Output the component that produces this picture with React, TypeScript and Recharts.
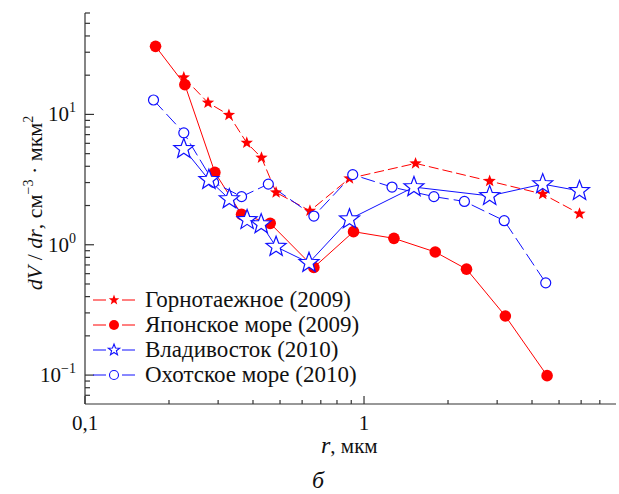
import { Line, LineChart, XAxis, YAxis } from 'recharts'

// Горнотаежное (2009)
const gorX = [0.226, 0.276, 0.328, 0.38, 0.429, 0.484, 0.64, 0.887, 1.53, 2.82, 4.37, 5.92]
const gorY = [19.2, 12.3, 9.9, 6.05, 4.66, 2.52, 1.82, 3.23, 4.21, 3.08, 2.45, 1.73]
// Японское море (2009)
const japX = [0.179, 0.228, 0.292, 0.364, 0.461, 0.661, 0.917, 1.28, 1.8, 2.33, 3.21, 4.53]
const japY = [33.3, 16.9, 3.59, 1.71, 1.46, 0.67, 1.26, 1.12, 0.88, 0.65, 0.284, 0.099]
// Владивосток (2010)
const vlaX = [0.226, 0.278, 0.329, 0.381, 0.428, 0.484, 0.635, 0.887, 1.51, 2.82, 4.37, 5.92]
const vlaY = [5.44, 3.15, 2.24, 1.55, 1.44, 0.965, 0.727, 1.57, 2.77, 2.37, 2.92, 2.59]
// Охотское море (2010)
const okhX = [0.176, 0.226, 0.289, 0.364, 0.454, 0.661, 0.911, 1.26, 1.78, 2.29, 3.18, 4.48]
const okhY = [12.9, 7.22, 3.01, 2.34, 2.92, 1.66, 3.45, 2.77, 2.34, 2.15, 1.53, 0.51]

const names = ['Горнотаежное (2009)', 'Японское море (2009)', 'Владивосток (2010)', 'Охотское море (2010)']

const xTicks = [0.1, 0.2, 0.3, 0.4, 0.5, 0.6, 0.7, 0.8, 0.9, 1, 2, 3, 4, 5, 6, 7]
const yTicks = [0.07, 0.08, 0.09, 0.1, 0.2, 0.3, 0.4, 0.5, 0.6, 0.7, 0.8, 0.9, 1, 2, 3, 4, 5, 6, 7, 8, 9, 10, 20, 30, 40, 50, 60]
const xMajor: Record<number, string> = { 0.1: '0,1', 1: '1' }
const yMajor: Record<number, string> = { 0.1: '−1', 1: '0', 10: '1' }

const toPts = (xs: number[], ys: number[]) => xs.map((x, i) => ({ x, y: ys[i] }))

const RED = '#ff0000'
const BLUE = '#1010ff'
const AXIS = '#333'
const FONT = 'Liberation Serif'

function starPoints(cx: number, cy: number, r: number) {
  const pts = []
  for (let i = 0; i < 10; i++) {
    const rr = i % 2 === 0 ? r : r * 0.42
    const a = -Math.PI / 2 + (i * Math.PI) / 5
    pts.push(`${cx + rr * Math.cos(a)},${cy + rr * Math.sin(a)}`)
  }
  return pts.join(' ')
}

const redStar = (p: any) => (
  <polygon key={`rs${p.index}`} points={starPoints(p.cx, p.cy, 6.5)} fill={RED} />
)
const redDot = (p: any) => <circle key={`rd${p.index}`} cx={p.cx} cy={p.cy} r={5.8} fill={RED} />
const blueStar = (p: any) => (
  <polygon key={`bs${p.index}`} points={starPoints(p.cx, p.cy, 10.5)} fill="#fff" stroke={BLUE} strokeWidth={1.2} />
)
const blueCircle = (p: any) => (
  <circle key={`bc${p.index}`} cx={p.cx} cy={p.cy} r={5} fill="#fff" stroke={BLUE} strokeWidth={1.2} />
)

const XTick = (p: any) => {
  const v = p.payload.value
  const label = xMajor[v]
  return (
    <g>
      <line x1={p.x} x2={p.x} y1={p.y} y2={p.y - (label ? 8 : 4)} stroke={AXIS} strokeWidth={1.2} />
      {label && (
        <text x={p.x} y={p.y + 26} textAnchor="middle" fontSize={21} fontFamily={FONT} fill="#111">
          {label}
        </text>
      )}
    </g>
  )
}

const YTick = (p: any) => {
  const v = p.payload.value
  const exp = yMajor[v]
  return (
    <g>
      <line x1={p.x} x2={p.x + (exp ? 9 : 5)} y1={p.y} y2={p.y} stroke={AXIS} strokeWidth={1.2} />
      {exp && (
        <text x={p.x - 9} y={p.y + 7} textAnchor="end" fontSize={21} fontFamily={FONT} fill="#111">
          10<tspan dy={-9} fontSize={14}>{exp}</tspan>
        </text>
      )}
    </g>
  )
}

const legendItems = [
  { name: names[0], color: RED, mark: (cx: number, cy: number) => <polygon points={starPoints(cx, cy, 5.5)} fill={RED} /> },
  { name: names[1], color: RED, mark: (cx: number, cy: number) => <circle cx={cx} cy={cy} r={5} fill={RED} /> },
  { name: names[2], color: BLUE, mark: (cx: number, cy: number) => <polygon points={starPoints(cx, cy, 6)} fill="#fff" stroke={BLUE} strokeWidth={1.1} /> },
  { name: names[3], color: BLUE, mark: (cx: number, cy: number) => <circle cx={cx} cy={cy} r={4.5} fill="#fff" stroke={BLUE} strokeWidth={1.1} /> },
]

export default function App() {
  return (
    <div style={{ position: 'absolute', left: 0, top: 0, background: '#fff' }}>
      <LineChart width={619} height={494} margin={{ top: 13, right: 3, bottom: 60, left: 25 }}>
        <XAxis
          dataKey="x"
          type="number"
          scale="log"
          domain={[0.1, 8]}
          allowDataOverflow
          ticks={xTicks}
          interval={0}
          tick={<XTick />}
          tickLine={false}
          tickSize={0}
          tickMargin={0}
          height={30}
          stroke={AXIS}
          strokeWidth={1.2}
        />
        <YAxis
          type="number"
          scale="log"
          domain={[0.06, 60]}
          allowDataOverflow
          ticks={yTicks}
          interval={0}
          tick={<YTick />}
          tickLine={false}
          tickSize={0}
          tickMargin={0}
          width={60}
          stroke={AXIS}
          strokeWidth={1.2}
        />
        <Line data={toPts(gorX, gorY)} dataKey="y" name={names[0]} type="linear" stroke={RED} strokeWidth={1} strokeDasharray="10 4" dot={redStar} activeDot={false} isAnimationActive={false} />
        <Line data={toPts(japX, japY)} dataKey="y" name={names[1]} type="linear" stroke={RED} strokeWidth={1} dot={redDot} activeDot={false} isAnimationActive={false} />
        <Line data={toPts(okhX, okhY)} dataKey="y" name={names[3]} type="linear" stroke={BLUE} strokeWidth={1} strokeDasharray="14 5" dot={blueCircle} activeDot={false} isAnimationActive={false} />
        <Line data={toPts(vlaX, vlaY)} dataKey="y" name={names[2]} type="linear" stroke={BLUE} strokeWidth={1} dot={blueStar} activeDot={false} isAnimationActive={false} />
      </LineChart>
      <svg width={619} height={494} style={{ position: 'absolute', left: 0, top: 0, pointerEvents: 'none' }}>
        {legendItems.map((it, i) => {
          const cy = 300 + i * 25
          return (
            <g key={it.name}>
              <line x1={93} x2={106} y1={cy} y2={cy} stroke={it.color} strokeWidth={1} />
              <line x1={122} x2={135} y1={cy} y2={cy} stroke={it.color} strokeWidth={1} />
              {it.mark(114, cy)}
              <text x={145} y={cy + 7} fontSize={23} fontFamily={FONT} fill="#111">
                {it.name}
              </text>
            </g>
          )
        })}
        <text transform="translate(42,203) rotate(-90)" textAnchor="middle" fontSize={22} fontFamily={FONT} fill="#111">
          <tspan fontStyle="italic">dV</tspan>
          <tspan> / </tspan>
          <tspan fontStyle="italic">dr</tspan>
          <tspan>, см</tspan>
          <tspan dy={-9} fontSize={14}>−3</tspan>
          <tspan dy={9}> · мкм</tspan>
          <tspan dy={-9} fontSize={14}>2</tspan>
        </text>
        <text x={321} y={453} fontSize={21} fontFamily={FONT} fill="#111">
          <tspan fontStyle="italic" fontSize={24}>r</tspan>
          <tspan>, мкм</tspan>
        </text>
        <text x={318} y={488} textAnchor="middle" fontStyle="italic" fontSize={24} fontFamily={FONT} fill="#111">
          б
        </text>
      </svg>
    </div>
  )
}
